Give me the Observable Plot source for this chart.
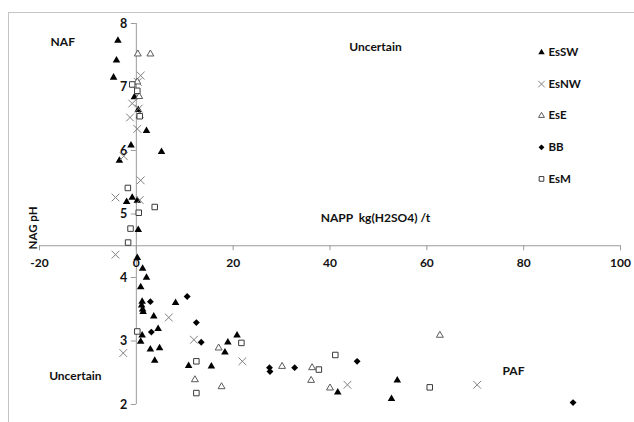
<!DOCTYPE html>
<html>
<head>
<meta charset="utf-8">
<script src="https://cdn.jsdelivr.net/npm/d3@7"></script>
<script src="https://cdn.jsdelivr.net/npm/@observablehq/plot@0.6"></script>
<style>
  html, body { margin: 0; padding: 0; background: #fff; overflow: hidden; }
  #wrap { position: relative; width: 634px; height: 422px; }
  #frame { position: absolute; left: 8px; top: 12px; width: 700px; height: 500px;
           border-left: 1.5px solid #c4c4c4; border-top: 1.5px solid #c4c4c4; pointer-events: none; }
  svg { position: absolute; left: 0; top: 0; }
</style>
</head>
<body>
<div id="wrap"><div id="frame"></div></div>
<script>
// ---- data ----
const seriesNames = ["EsSW", "EsNW", "EsE", "BB", "EsM"];

const esswX = [-3.8, -4.1, -4.7, -0.4, 0.4, 2.1, -1.1, 5.2, -3.5, -0.85, -2.0, 0.2, 0.4,
               0.2, 1.3, 2.1, 0.9, 1.2, 1.1, 1.3, 1.4, 3.6, 4.5, 1.2, 0.9, 2.9, 4.8, 3.8,
               8.1, 10.8, 15.5, 18.3, 18.9, 20.8, 41.6, 53.9, 52.7];
const esswY = [7.73, 7.42, 7.15, 6.84, 6.64, 6.31, 6.08, 5.98, 5.84, 5.26, 5.19, 5.21, 4.75,
               4.31, 4.14, 4.00, 3.85, 3.62, 3.56, 3.50, 3.46, 3.39, 3.19, 3.09, 2.99, 2.87, 2.89, 2.69,
               3.60, 2.61, 2.60, 2.82, 2.98, 3.09, 2.19, 2.38, 2.09];

const esnwX = [0.9, 0.3, -0.85, 0.5, -1.3, 0.2, -2.6, 0.9, -4.3, 0.7, -4.3, 6.7, 11.9, -2.7, 21.9, 43.6, 70.4];
const esnwY = [7.18, 7.08, 6.74, 6.66, 6.52, 6.34, 5.91, 5.53, 5.26, 5.22, 4.36, 3.37, 3.02, 2.81, 2.68, 2.31, 2.31];

const eseX = [0.3, 2.9, 0.2, 0.6, 0.7, 17.0, 12.1, 17.6, 30.1, 36.3, 36.1, 40.0, 62.7];
const eseY = [7.52, 7.52, 7.08, 6.85, 6.55, 2.89, 2.39, 2.28, 2.60, 2.58, 2.38, 2.26, 3.09];

const bbX = [2.9, 10.5, 12.4, 3.1, 13.4, 27.5, 27.6, 32.7, 45.6, 90.2];
const bbY = [3.62, 3.70, 3.29, 3.14, 2.98, 2.58, 2.52, 2.58, 2.68, 2.03];

const esmX = [-0.85, 0.2, 0.7, -1.75, 3.8, 0.5, -1.2, -1.7, 0.2, 12.4, 12.4, 21.7, 41.1, 37.7, 60.6];
const esmY = [7.04, 6.94, 6.54, 5.41, 5.11, 5.02, 4.77, 4.55, 3.15, 2.68, 2.18, 2.97, 2.78, 2.55, 2.27];

const xTicks = [-20, 0, 20, 40, 60, 80, 100];
const yTicks = [2, 3, 4, 5, 6, 7, 8];

const annotations = [
  {label: "NAF", x: -15.2, y: 7.70},
  {label: "Uncertain", x: 49.4, y: 7.62},
  {label: "Uncertain", x: -12.6, y: 2.44},
  {label: "PAF", x: 77.9, y: 2.52}
];
const xTitle = {label: "NAPP\u00a0 kg(H2SO4) /t", x: 49.4, y: 4.94};
const yTitle = {label: "NAG pH", x: -21.3, y: 4.78};

// ---- styles per series ----
const styles = {
  EsSW: {symbol: "triangle", fill: "#000", stroke: "none", r: 2.8, strokeWidth: 0},
  EsNW: {symbol: "times", fill: "none", stroke: "#808080", r: 3.6, strokeWidth: 1},
  EsE:  {symbol: "triangle2", fill: "#fff", stroke: "#5a5a5a", r: 3.3, strokeWidth: 1},
  BB:   {symbol: "diamond2", fill: "#000", stroke: "none", r: 3.1, strokeWidth: 0},
  EsM:  {symbol: "square2", fill: "#fff", stroke: "#3a3a3a", r: 3.5, strokeWidth: 1}
};
const xs = {EsSW: esswX, EsNW: esnwX, EsE: eseX, BB: bbX, EsM: esmX};
const ys = {EsSW: esswY, EsNW: esnwY, EsE: eseY, BB: bbY, EsM: esmY};

const font = "Lato, 'Open Sans', sans-serif";
const axisColor = "#9a9a9a";

const pointMarks = seriesNames.map(name => {
  const s = styles[name];
  const data = xs[name].map((x, i) => ({x, y: ys[name][i]}));
  return Plot.dot(data, {x: "x", y: "y", symbol: () => s.symbol, r: s.r,
    fill: s.fill, stroke: s.stroke, strokeWidth: s.strokeWidth});
});

const legendMarks = seriesNames.flatMap((name, i) => {
  const s = styles[name];
  return [
    Plot.dot([name], {frameAnchor: "top-right", dx: -79, dy: 29 + i * 31.6,
      symbol: () => s.symbol, r: s.r * 0.85, fill: s.fill, stroke: s.stroke, strokeWidth: s.strokeWidth}),
    Plot.text([name], {frameAnchor: "top-right", dx: -72, dy: 29 + i * 31.6, text: d => d,
      textAnchor: "start", lineAnchor: "middle", fontWeight: "bold", fontSize: 11.5, fill: "#111"})
  ];
});

const chart = Plot.plot({
  width: 634,
  height: 422,
  marginLeft: 39,
  marginRight: 14,
  marginTop: 23,
  marginBottom: 18,
  style: {fontFamily: font, background: "transparent", overflow: "visible"},
  x: {domain: [-20, 100], axis: null},
  y: {domain: [2, 8], axis: null},
  symbol: {type: "identity"},
  marks: [
    // axes through the data
    Plot.ruleY([4.5], {y: d => d, x1: -20, x2: 100, stroke: axisColor, strokeWidth: 1}),
    Plot.ruleX([0], {x: d => d, y1: 2, y2: 8, stroke: axisColor, strokeWidth: 1}),
    Plot.ruleX(xTicks, {x: d => d, y1: 4.5, y2: 4.5, insetBottom: -5, stroke: axisColor, strokeWidth: 1}),
    Plot.ruleY(yTicks, {y: d => d, x1: 0, x2: 0, insetLeft: -5, stroke: axisColor, strokeWidth: 1}),
    Plot.text(xTicks, {x: d => d, y: 4.5, dy: 17, text: d => String(d), fontWeight: "bold", fontSize: 12, fill: "#111"}),
    Plot.text(yTicks, {x: 0, y: d => d, dx: -9, text: d => String(d), textAnchor: "end", fontWeight: "bold", fontSize: 12.5, fill: "#111"}),
    // titles and annotations
    Plot.text([xTitle], {x: "x", y: "y", text: "label", fontWeight: "bold", fontSize: 12, fill: "#111"}),
    Plot.text([yTitle], {x: "x", y: "y", text: "label", rotate: -90, fontWeight: "bold", fontSize: 11.5, fill: "#111"}),
    Plot.text(annotations, {x: "x", y: "y", text: "label", fontWeight: "bold", fontSize: 12, fill: "#111"}),
    // data
    ...pointMarks,
    // legend
    ...legendMarks
  ]
});

document.getElementById("wrap").prepend(chart);
</script>
</body>
</html>
